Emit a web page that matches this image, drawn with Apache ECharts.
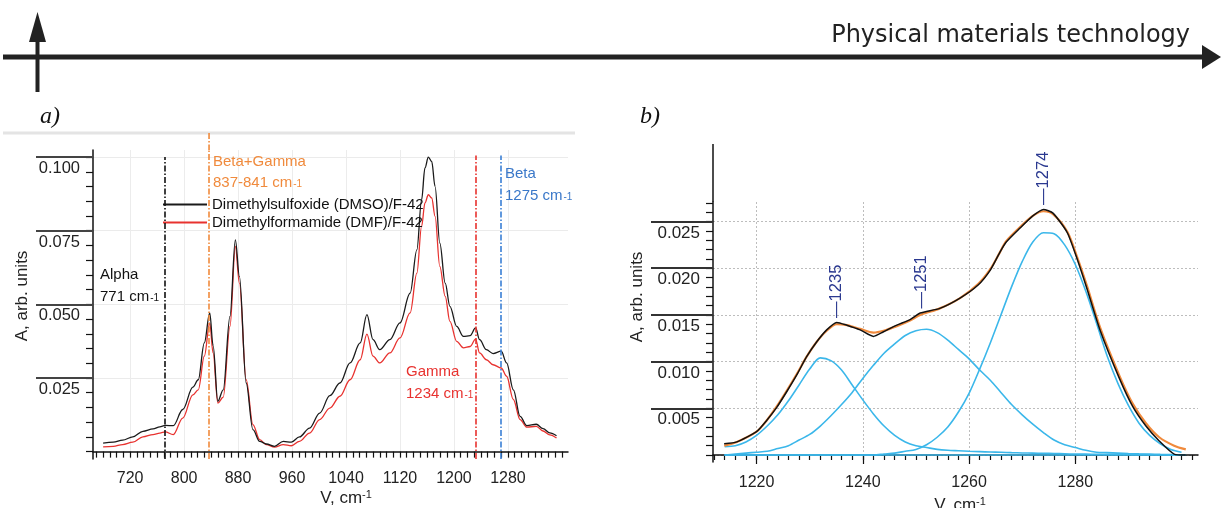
<!DOCTYPE html>
<html><head><meta charset="utf-8">
<script src="https://cdn.jsdelivr.net/npm/echarts@6/dist/echarts.min.js"></script>
<style>html,body{margin:0;padding:0;background:#fff}#c{width:1221px;height:508px}</style>
</head><body><div id="c"></div>
<script>
// ---------------- Panel a data ----------------
const waveA = [680,695,709,724,739,754,764,772,784,798,813,821,830,838,843,850,858,868,876,882,892,902,912,922,934,947,959,971,986,1001,1016,
  1031,1046,1061,1071,1080,1090,1105,1120,1135,1145,1152,1157,1162,1167,1172,1179,1187,1194,1204,1214,1224,1232,1238,1248,1258,1270,1278,1288,1298,1308,1322,1332,1342,1352];
const dmso = [0.0029,0.0032,0.0039,0.0050,0.0069,0.0077,0.0084,0.0089,0.0088,0.0143,0.0219,0.0244,0.0369,0.0471,0.0360,0.0171,0.0210,0.0459,0.0719,0.0595,0.0233,0.0075,0.0035,0.0026,0.0018,0.0035,0.0032,0.0050,0.0080,0.0131,0.0190,
  0.0233,0.0301,0.0369,0.0465,0.0380,0.0346,0.0380,0.0437,0.0538,0.0685,0.0855,0.0963,0.1000,0.0985,0.0900,0.0708,0.0572,0.0493,0.0425,0.0391,0.0394,0.0420,0.0380,0.0346,0.0333,0.0341,0.0301,0.0210,0.0120,0.0088,0.0093,0.0078,0.0064,0.0054];
const dmf = [0.0016,0.0018,0.0024,0.0032,0.0050,0.0058,0.0063,0.0067,0.0058,0.0114,0.0193,0.0210,0.0324,0.0437,0.0335,0.0165,0.0185,0.0425,0.0697,0.0572,0.0244,0.0092,0.0041,0.0024,0.0015,0.0024,0.0020,0.0035,0.0063,0.0109,0.0148,
  0.0188,0.0244,0.0312,0.0399,0.0324,0.0301,0.0335,0.0386,0.0471,0.0606,0.0765,0.0844,0.0872,0.0861,0.0799,0.0629,0.0527,0.0442,0.0374,0.0352,0.0357,0.0382,0.0335,0.0312,0.0295,0.0284,0.0256,0.0177,0.0109,0.0083,0.0086,0.0070,0.0057,0.0046];
const nameDMSO = 'Dimethylsulfoxide (DMSO)/F-42';
const nameDMF = 'Dimethylformamide (DMF)/F-42';
const bandPos = [771, 837, 1232, 1270];
const bandTop = [0.1000, 0.1024, 0.1005, 0.1005];
const bandColors = ['#111111', '#f08a3c', '#e8322f', '#3a7fd5'];
const xLabelsA = [720, 800, 880, 960, 1040, 1120, 1200, 1280];
const yLabelsA = [0.025, 0.050, 0.075, 0.100];

// ---------------- Panel b data ----------------
const waveB = [1213.9,1216.3,1220.0,1221.9,1223.8,1225.7,1227.6,1229.4,1231.3,1233.2,1235.1,1237.0,1239.5,1242.0,1243.9,1246.4,1248.9,1250.8,1254.5,1258.3,1261.7,1264.0,1265.8,1267.0,1269.6,1272.0,1274.0,1275.8,1278.5,1280.4,1282.2,1284.7,1288.3,1290.8,1293.3,1295.8,1298.6,1300.8];
const measuredB = [0.0012,0.0014,0.0025,0.0037,0.0051,0.0068,0.0086,0.0105,0.0121,0.0134,0.0142,0.0139,0.0134,0.0127,0.0132,0.0139,0.0145,0.0152,0.0157,0.0168,0.0182,0.0198,0.0217,0.0228,0.0243,0.0256,0.0263,0.0259,0.0238,0.0209,0.0178,0.0133,0.0082,0.0052,0.0031,0.0015,0.0001,0.0000];
const fitB = [0.0010,0.0014,0.0025,0.0037,0.0052,0.0069,0.0087,0.0105,0.0121,0.0133,0.0140,0.0139,0.0135,0.0131,0.0133,0.0138,0.0144,0.0150,0.0157,0.0168,0.0183,0.0199,0.0217,0.0229,0.0244,0.0256,0.0261,0.0258,0.0239,0.0211,0.0181,0.0136,0.0085,0.0055,0.0034,0.0019,0.0010,0.0006];
const compX = [1214,1216,1218,1220,1222,1224,1226,1228,1230,1232,1234,1236,1238,1240,1242,1244,1246,1248,1250,1252,1254,1256,1258,1260,1262,1264,1266,1268,1270,1272,1274,1276,1278,1280,1282,1284,1286,1288,1290,1292,1294,1296,1298,1300];
const g1Y = [0.0009,0.0010,0.0014,0.0021,0.0031,0.0043,0.0058,0.0075,0.0092,0.0104,0.0101,0.0091,0.0075,0.0059,0.0044,0.0031,0.0021,0.0014,0.0010,0.0008,0.0006,0.0005,0.00045,0.0004,0.00036,0.00032,0.00029,0.00025,0.00022,0.0002,0.00018,0.00016,0.00013,0.0001,0.00009,0.00008,0.00007,0.00006,0.00005,0.00004,0.00003,0.00002,0.00001,0.0];
const g2Y = [0.0,0.0001,0.0002,0.0003,0.0004,0.0007,0.0010,0.0016,0.0022,0.0031,0.0042,0.0054,0.0067,0.0082,0.0096,0.0109,0.0119,0.0128,0.0133,0.01346,0.0131,0.0123,0.0113,0.0103,0.0091,0.0080,0.0067,0.0054,0.0043,0.0033,0.0024,0.0016,0.0011,0.0008,0.0005,0.0003,0.00025,0.0002,0.00015,0.00012,0.0001,0.00007,0.00004,0.0];
const g3Y = [0.0,0.0,0.0,0.0,0.0,0.0,0.0,0.0,0.0,0.0,0.0,0.0,0.0,0.0,0.0,0.0001,0.0002,0.0004,0.0006,0.0011,0.0019,0.0030,0.0046,0.0066,0.0092,0.0120,0.0150,0.0180,0.0207,0.0228,0.0238,0.0237,0.0225,0.0204,0.0175,0.0141,0.0106,0.0077,0.0053,0.0034,0.0021,0.0012,0.0006,0.0003];
const baseX = [1213.9, 1300.8];
const baseY = [0.0, 0.0];
const peakLabelsB = [1235, 1251, 1274];
const peakHeightsB = [0.0142, 0.0152, 0.0263];
const xLabelsB = [1220, 1240, 1260, 1280];
const yLabelsB = [0.005, 0.010, 0.015, 0.020, 0.025];

// ---------------- helpers ----------------
const FONT = "'Liberation Sans', Arial, sans-serif";
function steps(a, b, s) { const r = []; for (let i = 0; a + i * s <= b + 1e-9; i++) r.push(+(a + i * s).toFixed(6)); return r; }
const zip = (xs, ys) => xs.map((x, i) => [x, ys[i]]);

const chart = echarts.init(document.getElementById('c'), null, {renderer: 'canvas'});

const axisBlack = {lineStyle: {color: '#111', width: 1.5}};
const yLab = (size) => ({
  formatter: v => '{v|' + v.toFixed(3) + '}',
  rich: {v: {fontSize: size, color: '#222', fontFamily: FONT, padding: [23, 0, 0, 0]}}
});
const option = {
  animation: false,
  textStyle: {fontFamily: FONT},
  grid: [
    {left: 93, top: 150, width: 475, height: 309},
    {left: 713, top: 202, width: 485, height: 260}
  ],
  legend: {
    data: [nameDMSO, nameDMF], orient: 'vertical', left: 163, top: 197, padding: 0,
    itemWidth: 44, itemHeight: 2, itemGap: 3, icon: 'rect', selectedMode: false,
    textStyle: {fontSize: 15, color: '#111', fontFamily: FONT}
  },
  xAxis: [
    {gridIndex: 0, type: 'value', min: 665, max: 1369, axisLine: axisBlack,
     axisTick: {customValues: steps(670, 1360, 10), length: 6, lineStyle: {color: '#111', width: 1.2}},
     axisLabel: {customValues: xLabelsA, formatter: v => String(v), fontSize: 16, color: '#222', margin: 12, fontFamily: FONT},
     splitLine: {show: false}},
    {gridIndex: 0, type: 'value', position: 'bottom', min: 665, max: 1369, axisLine: {show: false},
     axisTick: {show: false, customValues: xLabelsA}, axisLabel: {show: false},
     splitLine: {show: true, lineStyle: {color: '#ececec', width: 1}}},
    {gridIndex: 1, type: 'value', min: 1211.8, max: 1303.1, axisLine: axisBlack,
     axisTick: {customValues: steps(1212, 1302, 2), length: 5, lineStyle: {color: '#111', width: 1.2}},
     axisLabel: {customValues: xLabelsB, formatter: v => String(v), fontSize: 16, color: '#222', margin: 13, fontFamily: FONT},
     splitLine: {show: false}},
    {gridIndex: 1, type: 'value', position: 'bottom', min: 1211.8, max: 1303.1, axisLine: {show: false},
     axisTick: {show: true, customValues: xLabelsB, length: 9, lineStyle: {color: '#111', width: 1.2}},
     axisLabel: {show: false},
     splitLine: {show: true, lineStyle: {color: '#bdbdbd', width: 1, type: [2, 2]}}}
  ],
  yAxis: [
    {gridIndex: 0, type: 'value', position: 'left', min: -0.0025, max: 0.1024, axisLine: {show: true, lineStyle: {color: '#111', width: 1.5}},
     axisTick: {customValues: steps(0, 0.1, 0.005), length: 7, lineStyle: {color: '#111', width: 1.2}},
     axisLabel: Object.assign({customValues: yLabelsA, margin: 13}, yLab(16.5)),
     splitLine: {show: false}},
    {gridIndex: 0, type: 'value', position: 'left', min: -0.0025, max: 0.1024, axisLine: {show: false},
     axisTick: {show: true, customValues: yLabelsA, length: 57, lineStyle: {color: '#444', width: 2}},
     axisLabel: {show: false},
     splitLine: {show: true, lineStyle: {color: '#ebebeb', width: 1}}},
    {gridIndex: 1, type: 'value', position: 'left', min: -0.00075, max: 0.02709, axisLine: {show: true, lineStyle: {color: '#111', width: 1.5}},
     axisTick: {customValues: steps(0, 0.027, 0.001), length: 7, lineStyle: {color: '#111', width: 1.2}},
     axisLabel: Object.assign({customValues: yLabelsB, margin: 13}, yLab(17)),
     splitLine: {show: false}},
    {gridIndex: 1, type: 'value', position: 'left', min: -0.00075, max: 0.02709, axisLine: {show: false},
     axisTick: {show: true, customValues: yLabelsB, length: 62, lineStyle: {color: '#333', width: 2}},
     axisLabel: {show: false}, splitLine: {show: false}},
    {gridIndex: 1, type: 'value', position: 'left', min: -0.00075, max: 0.02709, axisLine: {show: false},
     axisTick: {show: false, customValues: [0].concat(yLabelsB)},
     axisLabel: {show: false},
     splitLine: {show: true, lineStyle: {color: '#bdbdbd', width: 1, type: [2, 2]}}}
  ],
  series: [
    {name: nameDMSO, type: 'line', xAxisIndex: 0, yAxisIndex: 0, data: zip(waveA, dmso), showSymbol: false, symbol: 'none',
     smooth: 0.35, smoothMonotone: 'x', lineStyle: {color: '#1a1a1a', width: 1.3}, itemStyle: {color: '#1a1a1a'}, z: 3,
     markLine: {silent: true, symbol: ['none', 'none'], label: {show: false}, animation: false,
       data: bandPos.map((p, i) => [
         {coord: [p, -0.0025], lineStyle: {color: bandColors[i], width: 1.6, type: [6, 2, 1.5, 2]}},
         {coord: [p, bandTop[i]]}
       ])}},
    {name: nameDMF, type: 'line', xAxisIndex: 0, yAxisIndex: 0, data: zip(waveA, dmf), showSymbol: false, symbol: 'none',
     smooth: 0.35, smoothMonotone: 'x', lineStyle: {color: '#e8322f', width: 1.3}, itemStyle: {color: '#e8322f'}, z: 2},

    {name: 'baseline', type: 'line', xAxisIndex: 2, yAxisIndex: 2, data: zip(baseX, baseY), symbol: 'none',
     lineStyle: {color: '#3bb7ea', width: 1.6}, z: 2},
    {name: 'G1', type: 'line', xAxisIndex: 2, yAxisIndex: 2, data: zip(compX, g1Y), symbol: 'none', smooth: 0.3,
     lineStyle: {color: '#3bb7ea', width: 1.6}, z: 2},
    {name: 'G2', type: 'line', xAxisIndex: 2, yAxisIndex: 2, data: zip(compX, g2Y), symbol: 'none', smooth: 0.3,
     lineStyle: {color: '#3bb7ea', width: 1.6}, z: 2},
    {name: 'G3', type: 'line', xAxisIndex: 2, yAxisIndex: 2, data: zip(compX, g3Y), symbol: 'none', smooth: 0.3,
     lineStyle: {color: '#3bb7ea', width: 1.6}, z: 2},
    {name: 'fit', type: 'line', xAxisIndex: 2, yAxisIndex: 2, data: zip(waveB, fitB), symbol: 'none', smooth: 0.3,
     lineStyle: {color: '#f08a3c', width: 2.2}, z: 3},
    {name: 'measured', type: 'line', xAxisIndex: 2, yAxisIndex: 2, data: zip(waveB, measuredB), symbol: 'none', smooth: 0.2,
     lineStyle: {color: '#111', width: 1.5}, z: 4,
     markPoint: {symbol: 'circle', symbolSize: 1, itemStyle: {color: 'rgba(0,0,0,0)'}, silent: true, animation: false,
       label: {show: true, position: 'top', distance: 4, rotate: 90, align: 'left', verticalAlign: 'middle',
               color: '#2b3990', fontSize: 16.5, fontFamily: FONT, formatter: p => '\u2014' + p.name},
       data: peakLabelsB.map((v, i) => ({name: String(v), coord: [v, peakHeightsB[i]]}))}}
  ]
};
chart.setOption(option);

// ---------------- decorations / annotations ----------------
function rt(x, y, main, sup, color, size) {
  return {type: 'text', x: x, y: y, z: 10, style: {
    text: '{m|' + main + '}{s|' + sup + '}', align: 'left', verticalAlign: 'middle', textAlign: 'left', textVerticalAlign: 'middle',
    rich: {m: {fontSize: size, fill: color, fontFamily: FONT}, s: {fontSize: Math.round(size * 0.68), fill: color, fontFamily: FONT, verticalAlign: 'bottom', padding: [0, 0, 1, 1]}}
  }};
}
function tx(x, y, text, color, size, extra) {
  return Object.assign({type: 'text', x: x, y: y, z: 10, style: Object.assign({
    text: text, fill: color, fontSize: size, fontFamily: FONT, align: 'left', verticalAlign: 'middle', textAlign: 'left', textVerticalAlign: 'middle'
  }, extra || {})});
}
const topOrange = chart.convertToPixel({xAxisIndex: 0, yAxisIndex: 0}, [bandPos[1], 0.1024]);
const graphics = [
  {type: 'line', shape: {x1: 3, y1: 57, x2: 1206, y2: 57}, style: {stroke: '#222', lineWidth: 5}},
  {type: 'polygon', shape: {points: [[1202, 45], [1221, 57], [1202, 69]]}, style: {fill: '#222'}},
  {type: 'line', shape: {x1: 37.5, y1: 92, x2: 37.5, y2: 36}, style: {stroke: '#222', lineWidth: 4}},
  {type: 'polygon', shape: {points: [[29, 42], [37.5, 12], [46, 42]]}, style: {fill: '#222'}},
  tx(1190, 36, 'Physical materials technology', '#222', 24, {fontFamily: "'DejaVu Sans', sans-serif", align: 'right', textAlign: 'right'}),
  tx(40, 117, 'a)', '#111', 24, {fontFamily: "'Liberation Serif', serif", fontStyle: 'italic'}),
  tx(640, 117, 'b)', '#111', 24, {fontFamily: "'Liberation Serif', serif", fontStyle: 'italic'}),
  {type: 'line', shape: {x1: 3, y1: 133, x2: 575, y2: 133}, style: {stroke: '#e4e4e4', lineWidth: 3}},
  {type: 'line', shape: {x1: topOrange[0], y1: 133, x2: topOrange[0], y2: topOrange[1]}, style: {stroke: bandColors[1], lineWidth: 1.6, lineDash: [6, 2, 1.5, 2]}},
  {type: 'line', shape: {x1: 713, y1: 144, x2: 713, y2: 202}, style: {stroke: '#111', lineWidth: 1.5}},
  // panel a annotations
  tx(213, 162, 'Beta+Gamma', '#f08a3c', 15),
  rt(213, 183, '837-841 cm', '-1', '#f08a3c', 15),
  tx(100, 275, 'Alpha', '#111', 15),
  rt(100, 297, '771 cm', '-1', '#111', 15),
  tx(505, 174, 'Beta', '#3a78c9', 15),
  rt(505, 196, '1275 cm', '-1', '#3a78c9', 15),
  tx(406, 372, 'Gamma', '#e8322f', 15),
  rt(406, 394, '1234 cm', '-1', '#e8322f', 15),
  // axis names
  {type: 'text', x: 22, y: 296, rotation: Math.PI / 2, z: 10, style: {text: 'A, arb. units', fill: '#222', fontSize: 17, fontFamily: FONT, align: 'center', verticalAlign: 'middle', textAlign: 'center', textVerticalAlign: 'middle'}},
  {type: 'text', x: 637, y: 297, rotation: Math.PI / 2, z: 10, style: {text: 'A, arb. units', fill: '#222', fontSize: 17, fontFamily: FONT, align: 'center', verticalAlign: 'middle', textAlign: 'center', textVerticalAlign: 'middle'}},
  {type: 'text', x: 346, y: 498, z: 10, style: {text: '{n|V, cm}{p|-1}', align: 'center', verticalAlign: 'middle', textAlign: 'center', textVerticalAlign: 'middle',
     rich: {n: {fontSize: 17, fill: '#222', fontFamily: FONT}, p: {fontSize: 11, fill: '#222', fontFamily: FONT, verticalAlign: 'top'}}}},
  {type: 'text', x: 960, y: 505, z: 10, style: {text: '{n|V, cm}{p|-1}', align: 'center', verticalAlign: 'middle', textAlign: 'center', textVerticalAlign: 'middle',
     rich: {n: {fontSize: 17, fill: '#222', fontFamily: FONT}, p: {fontSize: 11, fill: '#222', fontFamily: FONT, verticalAlign: 'top'}}}}
];
chart.setOption({graphic: graphics});
</script>
</body></html>
